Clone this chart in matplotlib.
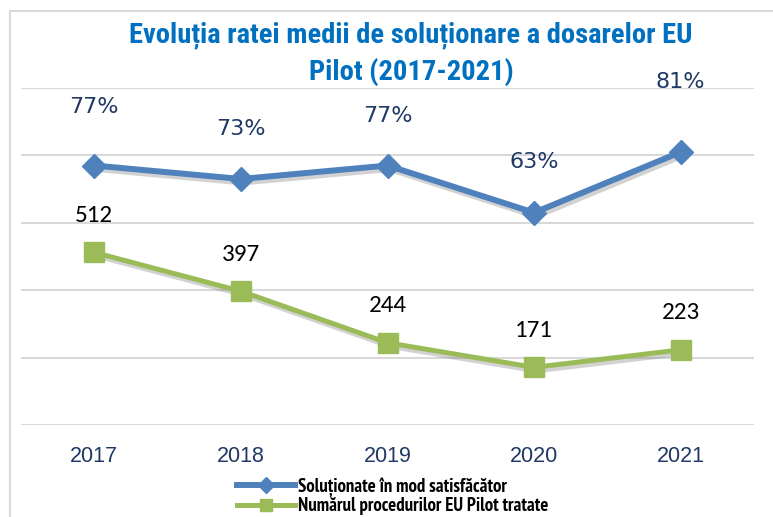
import matplotlib
matplotlib.use("Agg")
import matplotlib.pyplot as plt
import matplotlib.patheffects as pe
from matplotlib.patches import Rectangle

years = ["2017", "2018", "2019", "2020", "2021"]
rate_pct = [77, 73, 77, 63, 81]
procedures = [512, 397, 244, 171, 223]
rate_label_offsets = [59, 50, 50, 51, 70]  # pixels above point

title_lines = ["Evoluția ratei medii de soluționare a dosarelor EU", "Pilot (2017-2021)"]
legend_labels = ["Soluționate în mod satisfăcător", "Numărul procedurilor EU Pilot tratate"]

BLUE = "#4F81BD"
GREEN = "#9BBB59"
NAVY = "#1F3864"

fig = plt.figure(figsize=(7.73, 5.17), dpi=100)
fig.patches.append(Rectangle((10/773, -0.05), 1.1, 1.05 - 11/517, transform=fig.transFigure,
                             fill=False, edgecolor="#D9D9D9", linewidth=1.5))

ax = fig.add_axes([21/773, 1 - 425/517, (754 - 21)/773, (425 - 88)/517])
ax2 = ax.twinx()
x = list(range(len(years)))

ax.set_ylim(0, 1000)
ax.set_yticks(range(0, 1001, 200))
ax.set_xlim(-0.5, len(years) - 0.5)
ax2.set_ylim(0, 100)
ax.grid(axis="y", color="#D9D9D9", linewidth=1.5)
ax.set_axisbelow(True)
for a in (ax, ax2):
    for s in a.spines.values():
        s.set_visible(False)
    a.tick_params(axis="y", left=False, right=False, labelleft=False, labelright=False)
ax.tick_params(axis="x", length=0, pad=15, labelsize=15.5, labelcolor=NAVY)
ax.set_xticks(x)
ax.set_xticklabels(years, fontfamily="Liberation Sans")

shadow = [pe.SimpleLineShadow(offset=(1.5, -2.5), shadow_color="#7F7F7F", alpha=0.35), pe.Normal()]

ax.plot(x, procedures, color=GREEN, linewidth=3.6, path_effects=shadow, zorder=3,
        solid_capstyle="round")
ax.plot(x, procedures, linestyle="none", marker="s", markersize=14.5, color=GREEN, zorder=4)
ax2.plot(x, rate_pct, color=BLUE, linewidth=4.3, path_effects=shadow, zorder=3,
         solid_capstyle="round")
ax2.plot(x, rate_pct, linestyle="none", marker="D", markersize=12.5, color=BLUE, zorder=4)

for xi, v in zip(x, procedures):
    ax.annotate(str(v), (xi, v), xytext=(0, 37), textcoords="offset pixels",
                ha="center", va="center", fontsize=18, color="black",
                fontfamily=["Carlito", "Open Sans"])
for xi, v, off in zip(x, rate_pct, rate_label_offsets):
    ax2.annotate(f"{v}%", (xi, v), xytext=(0, off), textcoords="offset pixels",
                 ha="center", va="center", fontsize=16, color=NAVY, fontfamily="DejaVu Sans")

for line, ypix in zip(title_lines, [35, 72]):
    fig.text(411/773, 1 - ypix/517, line, ha="center", va="center", fontsize=20.5,
             color="#0070C0", fontfamily=["Roboto Condensed", "PT Sans Narrow"],
             fontweight="bold")

legend_handles = [
    plt.Line2D([], [], color=BLUE, linewidth=4.3, marker="D", markersize=8),
    plt.Line2D([], [], color=GREEN, linewidth=3.6, marker="s", markersize=9),
]
leg = fig.legend(legend_handles, legend_labels, loc="center left",
                 bbox_to_anchor=(228/773, 1 - 496/517), frameon=False,
                 prop={"family": "PT Sans Narrow", "weight": "bold", "size": 13.5},
                 handlelength=3.05, handletextpad=0.17, labelspacing=0.02, borderpad=0)

fig.savefig("out.png", dpi=100)
